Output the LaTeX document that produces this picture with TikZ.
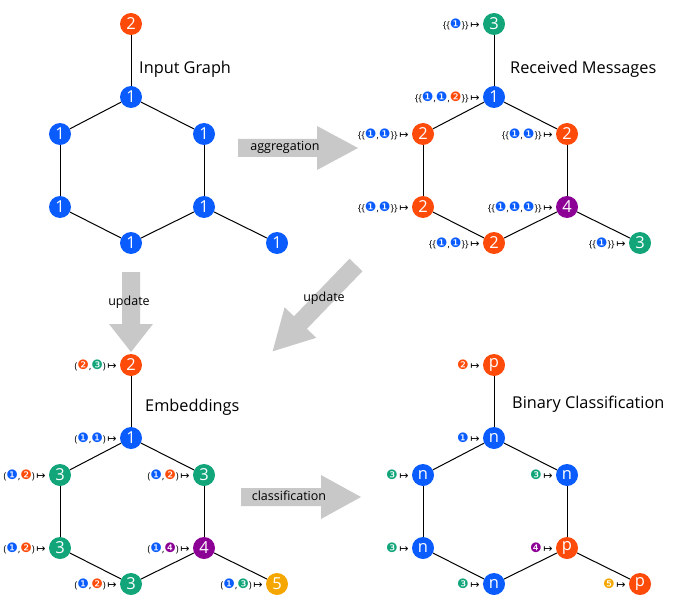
\documentclass[tikz,border=0pt]{standalone}
\usepackage{fontspec}
\setmainfont{Open Sans}
\newfontfamily\dvs{DejaVu Sans}
\definecolor{cb}{HTML}{0A5CFF}
\definecolor{co}{HTML}{FF4B0A}
\definecolor{cg}{HTML}{12A57A}
\definecolor{cp}{HTML}{8C0096}
\definecolor{cy}{HTML}{F5A700}
\definecolor{ca}{HTML}{C8C8C8}
\newcommand\bdg[2]{{\dvs\fontsize{13}{13}\selectfont\color{#1}#2}}
\newcommand\Bb{\bdg{cb}{❶}}
\newcommand\Bo{\bdg{co}{❷}}
\newcommand\Bg{\bdg{cg}{❸}}
\newcommand\Bp{\bdg{cp}{❹}}
\newcommand\By{\bdg{cy}{❺}}
\newcommand\mt{\,{\dvs\fontsize{11}{11}\selectfont ↦}}
\newcommand\ms[1]{\{\{#1\}\}\mt}
\newcommand\tp[1]{(#1)\mt}
\tikzset{
  gn/.style={circle, fill=#1, draw=none, minimum size=22pt, inner sep=0pt, text=white, font=\fontsize{16.5}{16.5}\selectfont},
  lbl/.style={font=\fontsize{9.5}{9.5}\selectfont, inner sep=1pt, text=black},
  every label/.style={lbl},
  label distance=2pt,
  edge/.style={line width=1pt, black},
  ttl/.style={anchor=west, font=\fontsize{16.3}{16.3}\selectfont, inner sep=0pt},
  atxt/.style={font=\fontsize{12.5}{12.5}\selectfont, inner sep=0pt},
  pics/blockarrow/.style n args={2}{code={
    \fill[ca] (0,-9) -- (#1-#2,-9) -- (#1-#2,-22) -- (#1,0) -- (#1-#2,22) -- (#1-#2,9) -- (0,9) -- cycle;}}
}
\begin{document}
\begin{tikzpicture}[x=1pt,y=-1pt]
\useasboundingbox (0,0) rectangle (700,612);

% arrows
\pic at (238,148) {blockarrow={120}{41}};
\node[atxt] (tagg) at (285,147) {aggregation};
\pic at (241,497) {blockarrow={120}{40}};
\node[atxt] (tcls) at (289,496) {classification};
\pic[rotate=-90] at (131,272) {blockarrow={80}{28}};
\node[atxt] (tup1) at (129,302) {update};
\pic[rotate=226] at (356,265) {blockarrow={120}{40}};
\node[atxt] (tup2) at (324,298) {update};

% graph 1
\node[gn=co] (At) at (131,24) {2};
\node[gn=cb] (Aa) at (131,97) {1};
\node[gn=cb] (Ab) at (60,134) {1};
\node[gn=cb] (Ac) at (204,134) {1};
\node[gn=cb] (Ad) at (60,207) {1};
\node[gn=cb] (Ae) at (204,207) {1};
\node[gn=cb] (Af) at (131,243) {1};
\node[gn=cb] (Ag) at (277,243) {1};
\node[ttl] (Ttl1) at (139,69) {Input Graph};

% graph 2
\node[gn=cg, label=left:{\ms{\Bb}}] (Bt) at (494,24) {3};
\node[gn=cb, label=left:{\ms{\Bb,\Bb,\Bo}}] (Ba) at (494,97) {1};
\node[gn=co, label=left:{\ms{\Bb,\Bb}}] (Bb) at (423,134) {2};
\node[gn=co, label=left:{\ms{\Bb,\Bb}}] (Bc) at (567,134) {2};
\node[gn=co, label=left:{\ms{\Bb,\Bb}}] (Bd) at (423,207) {2};
\node[gn=cp, label=left:{\ms{\Bb,\Bb,\Bb}}] (Be) at (567,207) {4};
\node[gn=co, label=left:{\ms{\Bb,\Bb}}] (Bf) at (494,243) {2};
\node[gn=cg, label=left:{\ms{\Bb}}] (Bg) at (640,243) {3};
\node[ttl] (Ttl2) at (510,69) {Received Messages};

% graph 3
\node[gn=co, label=left:{\tp{\Bo,\Bg}}] (Ct) at (131,365) {2};
\node[gn=cb, label=left:{\tp{\Bb,\Bb}}] (Ca) at (131,438) {1};
\node[gn=cg, label=left:{\tp{\Bb,\Bo}}] (Cb) at (60,475) {3};
\node[gn=cg, label=left:{\tp{\Bb,\Bo}}] (Cc) at (204,475) {3};
\node[gn=cg, label=left:{\tp{\Bb,\Bo}}] (Cd) at (60,548) {3};
\node[gn=cp, label=left:{\tp{\Bb,\Bp}}] (Ce) at (204,548) {4};
\node[gn=cg, label=left:{\tp{\Bb,\Bo}}] (Cf) at (131,584) {3};
\node[gn=cy, label=left:{\tp{\Bb,\Bg}}] (Cg) at (277,584) {5};
\node[ttl] (Ttl3) at (145,407) {Embeddings};

% graph 4
\node[gn=co, label=left:{\Bo\mt}] (Dt) at (494,365) {p};
\node[gn=cb, label=left:{\Bb\mt}] (Da) at (494,438) {n};
\node[gn=cb, label=left:{\Bg\mt}] (Db) at (423,475) {n};
\node[gn=cb, label=left:{\Bg\mt}] (Dc) at (567,475) {n};
\node[gn=cb, label=left:{\Bg\mt}] (Dd) at (423,548) {n};
\node[gn=co, label=left:{\Bp\mt}] (De) at (567,548) {p};
\node[gn=cb, label=left:{\Bg\mt}] (Df) at (494,584) {n};
\node[gn=co, label=left:{\By\mt}] (Dg) at (640,584) {p};
\node[ttl] (Ttl4) at (512,404) {Binary Classification};

% edges
\foreach \g in {A,B,C,D}{
  \draw[edge] (\g t) -- (\g a);
  \draw[edge] (\g a) -- (\g b);
  \draw[edge] (\g a) -- (\g c);
  \draw[edge] (\g b) -- (\g d);
  \draw[edge] (\g c) -- (\g e);
  \draw[edge] (\g d) -- (\g f);
  \draw[edge] (\g e) -- (\g f);
  \draw[edge] (\g e) -- (\g g);
}
\end{tikzpicture}
\end{document}
